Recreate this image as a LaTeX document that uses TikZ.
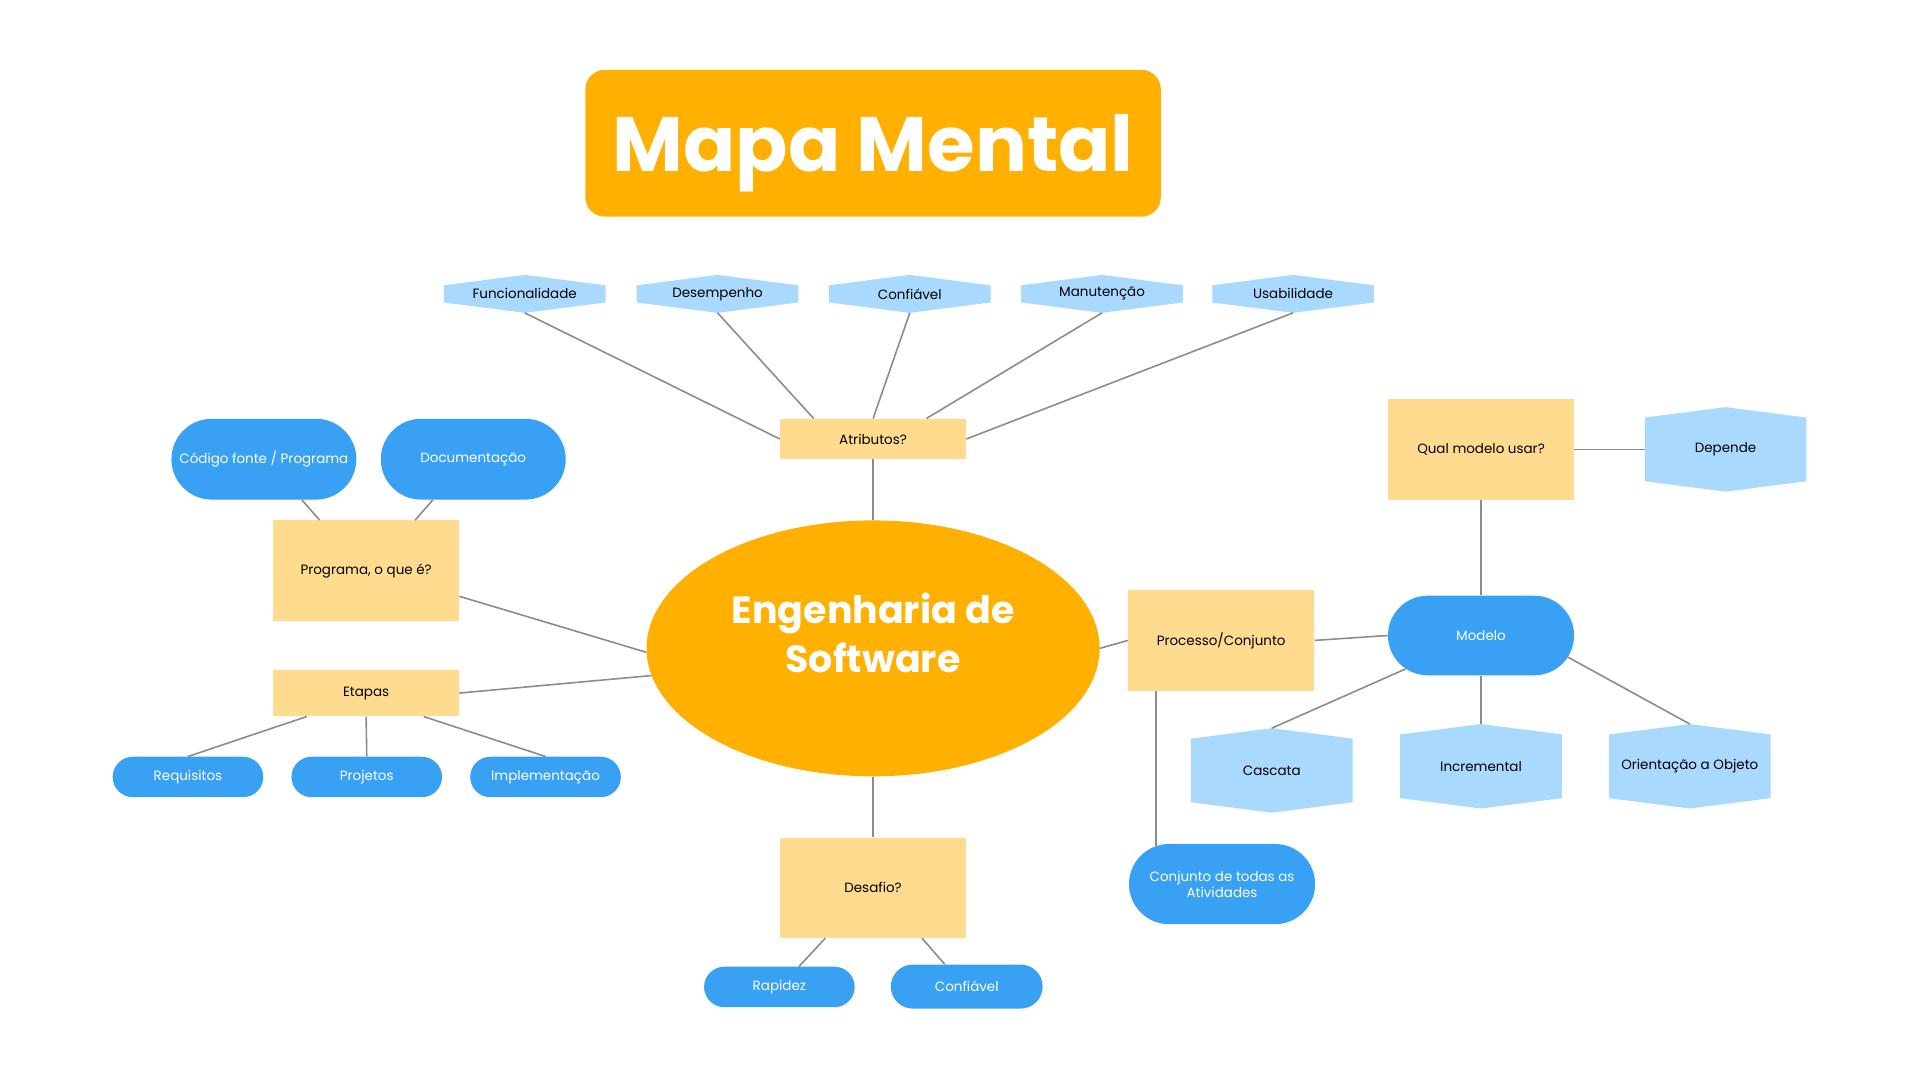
\documentclass[tikz,border=0pt]{standalone}
\usepackage{fontspec}
\setmainfont{Poppins}
\usepackage{tikz}
\usetikzlibrary{shapes}
\definecolor{mapaorange}{HTML}{FFB000}
\definecolor{boxyellow}{HTML}{FFDB8F}
\definecolor{pillblue}{HTML}{38A1F3}
\definecolor{hexblue}{HTML}{A9D9FF}
\definecolor{linegray}{HTML}{8C8C8C}
\tikzset{
  title node/.style={rectangle,rounded corners=16pt,fill=mapaorange,text=white,minimum width=470pt,minimum height=120pt,
    text height=50pt,text depth=4.4pt,font=\fontsize{63}{69}\selectfont\bfseries},
  center node/.style={ellipse,fill=mapaorange,text=white,minimum width=370pt,minimum height=209pt,inner sep=0pt,align=center,
    text depth=26pt,font=\fontsize{31}{40}\selectfont\bfseries},
  box node/.style={rectangle,fill=boxyellow,minimum width=152pt,inner sep=0pt,font=\fontsize{11}{13}\selectfont},
  pill node/.style={rounded rectangle,fill=pillblue,text=white,minimum width=123pt,minimum height=33pt,inner sep=0pt,align=center,font=\fontsize{11}{13}\selectfont},
  hex node/.style={rectangle,outer sep=0pt,inner sep=0pt,minimum width=132pt,font=\fontsize{11}{13}\selectfont,
    path picture={\fill[hexblue] ([yshift=-8.5pt]path picture bounding box.north west) -- (path picture bounding box.north)
      -- ([yshift=-8.5pt]path picture bounding box.north east) -- ([yshift=8.5pt]path picture bounding box.south east)
      -- (path picture bounding box.south) -- ([yshift=8.5pt]path picture bounding box.south west) -- cycle;}},
  link/.style={draw=linegray,line width=1.3pt}
}
\begin{document}
\begin{tikzpicture}[x=1pt,y=-1pt]
  \path[use as bounding box,fill=white] (0,0) rectangle (1568,882);

  \node [title node] (title) at (713,117) {Mapa Mental};
  \node [center node] (eng) at (713,529.5) {Engenharia de\\Software};

  \node [box node,minimum height=33pt] (attr) at (713,358.5) {Atributos?};
  \node [hex node,minimum height=31pt] (fun) at (428.5,240) {Funcionalidade};
  \node [hex node,minimum height=31pt] (des) at (586,240) {Desempenho};
  \node [hex node,minimum height=31pt] (conf) at (743,240) {Confiável};
  \node [hex node,minimum height=31pt] (man) at (900,240) {Manutenção};
  \node [hex node,minimum height=31pt] (usa) at (1056,240) {Usabilidade};

  \node [box node,minimum height=82pt] (prog) at (299,466) {Programa, o que é?};
  \node [pill node,minimum width=151pt,minimum height=66pt] (cod) at (215.5,375) {Código fonte / Programa};
  \node [pill node,minimum width=151pt,minimum height=66pt] (doc) at (386.5,375) {Documentação};

  \node [box node,minimum height=38pt] (etap) at (299,566) {Etapas};
  \node [pill node] (req) at (153.5,634.5) {Requisitos};
  \node [pill node] (proj) at (299.5,634.5) {Projetos};
  \node [pill node] (impl) at (445.5,634.5) {Implementação};

  \node [box node,minimum height=82pt] (desa) at (713,725) {Desafio?};
  \node [pill node] (rap) at (636.5,806) {Rapidez};
  \node [pill node,minimum width=124pt,minimum height=36pt] (conf2) at (789.5,805.7) {Confiável};

  \node [box node,minimum height=82pt] (proc) at (997.3,523) {Processo/Conjunto};
  \node [pill node,minimum width=152pt,minimum height=65.5pt] (conj) at (998,722) {Conjunto de todas as\\Atividades};
  \node [pill node,minimum width=152pt,minimum height=65pt] (mod) at (1209.5,519) {Modelo};
  \node [box node,minimum height=82pt] (qual) at (1209.5,367) {Qual modelo usar?};
  \node [hex node,minimum height=69pt] (dep) at (1409.2,367) {Depende};
  \node [hex node,minimum height=69pt] (casc) at (1038.6,629.2) {Cascata};
  \node [hex node,minimum height=69pt] (incr) at (1209.5,625.8) {Incremental};
  \node [hex node,minimum height=69pt] (ori) at (1380,625.8) {Orientação a Objeto};

  \draw [link] (fun.south) -- (attr.west);
  \draw [link] (des.south) -- (attr.161);
  \draw [link] (conf.south) -- (attr.north);
  \draw [link] (man.south) -- (attr.21);
  \draw [link] (usa.south) -- (attr.east);
  \draw [link] (attr.south) -- (eng.north);

  \draw [link] ([xshift=31pt]cod.south) -- ([xshift=-38pt]prog.north);
  \draw [link] ([xshift=-33pt]doc.south) -- ([xshift=40pt]prog.north);
  \draw [link] ([yshift=-21pt]prog.east) -- (eng.181);
  \draw [link] (etap.east) -- (eng.187);
  \draw [link] ([xshift=-48.5pt]etap.south) -- (req.north);
  \draw [link] (etap.south) -- (proj.north);
  \draw [link] ([xshift=47pt]etap.south) -- (impl.north);

  \draw [link] (eng.south) -- (desa.north);
  \draw [link] ([xshift=-39pt]desa.south) -- ([xshift=16pt]rap.north);
  \draw [link] ([xshift=40pt]desa.south) -- ([xshift=-18pt]conf2.north);

  \draw [link] (eng.east) -- (proc.west);
  \draw [link] (proc.east) -- (mod.west);
  \draw [link] (conj.150 |- proc.south) -- (conj.150);
  \draw [link] (qual.south) -- (mod.north);
  \draw [link] (qual.east) -- (dep.west);
  \draw [link] (casc.north) -- (mod);
  \draw [link] (mod.south) -- (incr.north);
  \draw [link] (mod.-14) -- (ori.north);
\end{tikzpicture}
\end{document}
